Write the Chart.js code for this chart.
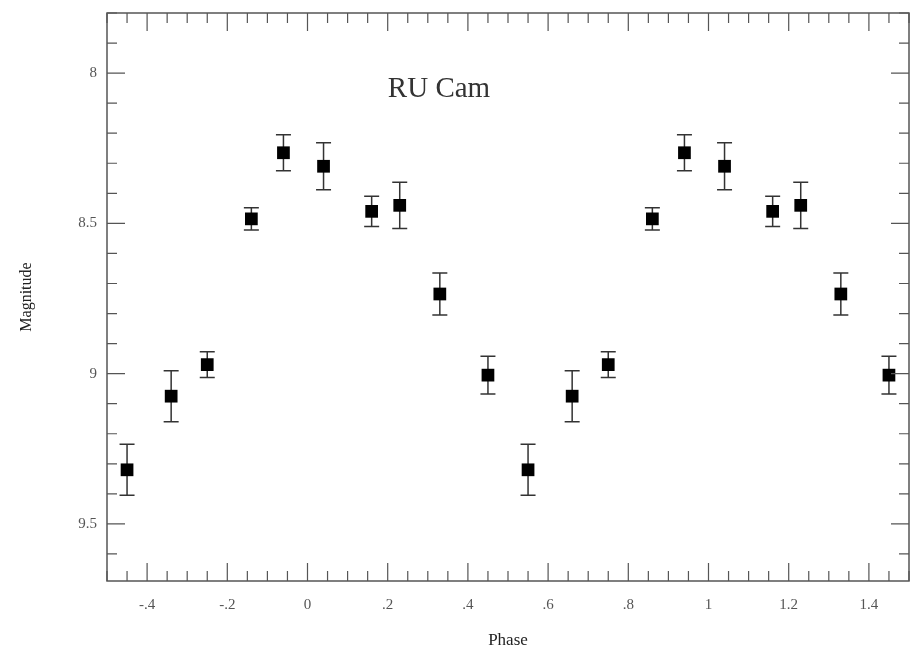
<!DOCTYPE html>
<html>
<head>
<meta charset="utf-8">
<script src="https://cdn.jsdelivr.net/npm/chart.js@4.4.0/dist/chart.umd.min.js"></script>
<style>
  html, body { margin: 0; padding: 0; background: #fff; }
  #wrap { width: 911px; height: 656px; }
</style>
</head>
<body>
<div id="wrap"><canvas id="lc" width="911" height="656"></canvas></div>
<script>
// light curve of RU Cam, each cycle plotted twice (phase and phase + 1)
const phases = [-0.45, -0.34, -0.25, -0.14, -0.06, 0.04, 0.16, 0.23, 0.33, 0.45,
                 0.55,  0.66,  0.75,  0.86,  0.94, 1.04, 1.16, 1.23, 1.33, 1.45];
const magnitudes = [9.32, 9.075, 8.97, 8.485, 8.265, 8.31, 8.46, 8.44, 8.735, 9.005,
                    9.32, 9.075, 8.97, 8.485, 8.265, 8.31, 8.46, 8.44, 8.735, 9.005];
const errors = [0.085, 0.085, 0.043, 0.037, 0.06, 0.078, 0.05, 0.077, 0.07, 0.063,
                0.085, 0.085, 0.043, 0.037, 0.06, 0.078, 0.05, 0.077, 0.07, 0.063];

const xTickValues = [-0.4, -0.2, 0, 0.2, 0.4, 0.6, 0.8, 1, 1.2, 1.4];
const xTickLabels = ['-.4', '-.2', '0', '.2', '.4', '.6', '.8', '1', '1.2', '1.4'];
const yTickValues = [8, 8.5, 9, 9.5];
const yTickLabels = ['8', '8.5', '9', '9.5'];

const AXIS = '#555';
const SERIF = "'Liberation Serif', 'Times New Roman', serif";

const points = phases.map((p, i) => ({ x: p, y: magnitudes[i], err: errors[i] }));

// error bars go under the squares
const errorBars = {
  id: 'errorBars',
  beforeDatasetsDraw(chart) {
    const { ctx, scales: { x, y } } = chart;
    ctx.save();
    ctx.strokeStyle = '#333';
    ctx.lineWidth = 1.5;
    points.forEach(pt => {
      const px = x.getPixelForValue(pt.x);
      const top = y.getPixelForValue(pt.y - pt.err);
      const bot = y.getPixelForValue(pt.y + pt.err);
      ctx.beginPath();
      ctx.moveTo(px, top); ctx.lineTo(px, bot);
      ctx.moveTo(px - 7.5, top); ctx.lineTo(px + 7.5, top);
      ctx.moveTo(px - 7.5, bot); ctx.lineTo(px + 7.5, bot);
      ctx.stroke();
    });
    ctx.restore();
  }
};

// frame with inward ticks on all four sides, plus the star name
const frame = {
  id: 'frame',
  afterDraw(chart) {
    const { ctx, chartArea: a, scales: { x, y } } = chart;
    ctx.save();
    ctx.strokeStyle = AXIS;
    ctx.lineWidth = 1.5;
    ctx.strokeRect(a.left, a.top, a.right - a.left, a.bottom - a.top);
    ctx.lineWidth = 1.2;
    ctx.beginPath();
    for (let k = -10; k <= 30; k++) {
      const px = x.getPixelForValue(k * 0.05);
      const len = (k % 4 === 0) ? 18 : 10;
      ctx.moveTo(px, a.bottom); ctx.lineTo(px, a.bottom - len);
      ctx.moveTo(px, a.top); ctx.lineTo(px, a.top + len);
    }
    for (let k = 78; k <= 96; k++) {
      const py = y.getPixelForValue(k / 10);
      const len = (k % 5 === 0) ? 18 : 10;
      ctx.moveTo(a.left, py); ctx.lineTo(a.left + len, py);
      ctx.moveTo(a.right, py); ctx.lineTo(a.right - len, py);
    }
    ctx.stroke();

    ctx.fillStyle = '#333';
    ctx.font = '29px ' + SERIF;
    ctx.textAlign = 'center';
    ctx.textBaseline = 'middle';
    ctx.fillText('RU Cam', x.getPixelForValue(0.328), y.getPixelForValue(8.053));
    ctx.restore();
  }
};

function noPad(s) {
  s.paddingTop = 0; s.paddingBottom = 0; s.paddingLeft = 0; s.paddingRight = 0;
}

new Chart(document.getElementById('lc'), {
  type: 'scatter',
  data: {
    datasets: [{
      data: points,
      pointStyle: 'rect',
      pointRadius: 9,
      pointHoverRadius: 9,
      backgroundColor: '#000',
      borderWidth: 0,
    }],
  },
  options: {
    responsive: false,
    animation: false,
    devicePixelRatio: 1,
    layout: { autoPadding: false, padding: { top: 13, right: 2, left: 0, bottom: 0 } },
    plugins: { legend: { display: false }, tooltip: { enabled: false } },
    scales: {
      x: {
        type: 'linear', min: -0.5, max: 1.5,
        grid: { display: false, drawTicks: false },
        border: { display: false },
        afterBuildTicks: s => { s.ticks = xTickValues.map(v => ({ value: v })); },
        afterFit: s => { s.height = 75; noPad(s); },
        ticks: {
          color: AXIS, padding: 15,
          font: { family: SERIF, size: 15 },
          maxRotation: 0, autoSkip: false,
          callback: v => xTickLabels[xTickValues.findIndex(t => Math.abs(t - v) < 1e-6)],
        },
        title: {
          display: true, text: 'Phase', color: '#222',
          font: { family: SERIF, size: 17 }, padding: { bottom: 5, top: 0 },
        },
      },
      y: {
        type: 'linear', reverse: true, min: 7.8, max: 9.69,
        grid: { display: false, drawTicks: false },
        border: { display: false },
        afterBuildTicks: s => { s.ticks = yTickValues.map(v => ({ value: v })); },
        afterFit: s => { s.width = 107; noPad(s); },
        ticks: {
          color: AXIS, padding: 10,
          font: { family: SERIF, size: 15 },
          autoSkip: false,
          callback: v => yTickLabels[yTickValues.findIndex(t => Math.abs(t - v) < 1e-6)],
        },
        title: {
          display: true, text: 'Magnitude', color: '#222',
          font: { family: SERIF, size: 16 }, padding: { top: 17, bottom: 0 },
        },
      },
    },
  },
  plugins: [errorBars, frame],
});
</script>
</body>
</html>
